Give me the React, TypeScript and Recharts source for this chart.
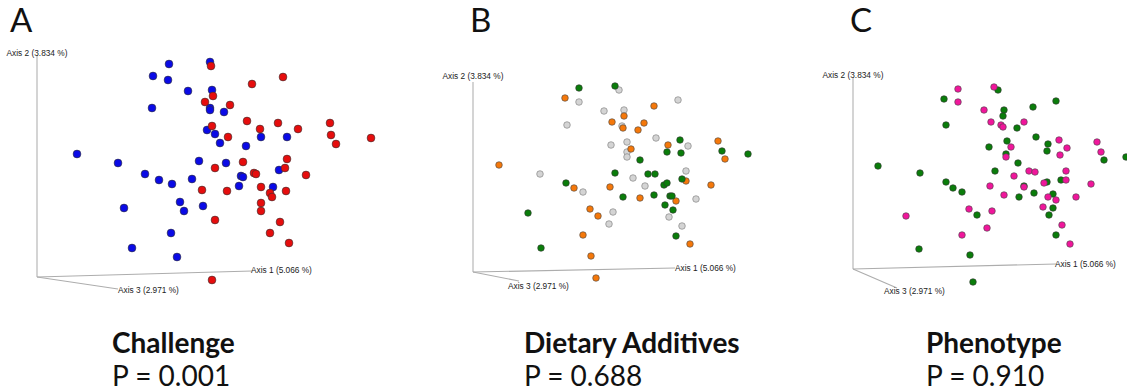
import { ScatterChart, Scatter, XAxis, YAxis, ReferenceLine, ReferenceDot } from 'recharts';

type Pt = { x: number; y: number };
const pts = (a: number[][]): Pt[] => a.map(([x, y]) => ({ x, y }));

// projected PCoA coordinates (screen-space units, origin at the axes corner)

// A - Challenge
const challengeBlue = pts([
  [132, 213], [116, 201], [131, 197], [151, 186], [115, 169], [40, 123], [81, 114], [108, 103],
  [122, 97], [155, 98], [162, 116], [173, 215], [175, 187], [173, 169], [173, 167], [187, 165],
  [170, 147], [178, 143], [224, 140], [250, 140], [183, 134], [209, 131], [189, 114], [242, 107],
  [204, 101], [206, 100], [135, 93], [202, 91], [236, 90], [166, 71], [143, 75], [147, 66],
  [87, 69], [134, 44], [95, 29], [140, 20],
]);
const challengeRed = pts([
  [174, 211], [246, 200], [215, 193], [176, 181], [168, 175], [193, 172], [210, 156], [241, 154],
  [293, 154], [175, 151], [223, 148], [261, 148], [191, 140], [294, 142], [334, 139], [299, 133],
  [250, 118], [206, 115], [178, 109], [248, 109], [217, 104], [219, 103], [269, 102], [165, 87],
  [190, 86], [224, 90], [233, 84], [235, 80], [249, 86], [224, 74], [224, 66], [178, 57],
  [243, 55], [233, 44], [252, 34], [175, -3],
]);

// B - Dietary Additives
const dietOrange = pts([
  [92, 174], [26, 107], [101, 84], [181, 166], [151, 156], [139, 150], [171, 149], [150, 144],
  [165, 142], [245, 131], [195, 127], [158, 123], [252, 113], [213, 91], [238, 87], [137, 85],
  [167, 74], [203, 71], [117, 63], [125, 56], [217, 28], [118, 16], [123, -6], [110, 37],
]);
const dietGreen = pts([
  [106, 184], [93, 89], [142, 186], [207, 132], [194, 120], [208, 119], [249, 121], [275, 118],
  [167, 112], [142, 99], [175, 98], [182, 98], [209, 93], [191, 87], [194, 89], [150, 75],
  [181, 77], [197, 76], [199, 76], [192, 67], [200, 62], [203, 36], [55, 59], [68, 24],
]);
const dietGray = pts([
  [106, 170], [94, 147], [67, 98], [146, 182], [205, 172], [131, 161], [151, 162], [149, 146],
  [183, 134], [154, 130], [138, 127], [215, 126], [154, 120], [154, 115], [213, 101], [160, 94],
  [172, 86], [223, 73], [140, 60], [136, 48], [196, 55], [209, 46], [110, 80],
]);

// C - Phenotype
const phenoPink = pts([
  [105, 180], [105, 167], [141, 182], [131, 159], [138, 147], [171, 147], [148, 144], [150, 142],
  [206, 129], [244, 127], [158, 122], [214, 121], [153, 112], [207, 114], [248, 117], [176, 98],
  [182, 97], [213, 98], [161, 93], [213, 89], [191, 86], [238, 85], [137, 83], [171, 82],
  [151, 74], [195, 72], [203, 69], [223, 72], [116, 60], [139, 58], [190, 62], [134, 41],
  [209, 44], [217, 25], [53, 53], [109, 34],
]);
const phenoGreen = pts([
  [91, 170], [93, 144], [25, 103], [67, 96], [93, 87], [100, 81], [145, 179], [203, 168],
  [180, 162], [151, 159], [150, 153], [164, 141], [154, 128], [183, 132], [195, 125], [136, 122],
  [194, 118], [153, 115], [251, 109], [273, 112], [165, 106], [142, 98], [208, 89], [194, 87],
  [171, 83], [166, 72], [181, 76], [200, 75], [124, 54], [200, 61], [196, 54], [203, 34],
  [117, 14], [120, -13], [109, 77], [66, 20],
]);

const axisNames = ['Axis 1 (5.066 %)', 'Axis 2 (3.834 %)', 'Axis 3 (2.971 %)'];

const LABEL_FONT = '"Liberation Sans", Arial, sans-serif';
const TITLE_FONT = 'Lato, "Open Sans", sans-serif';

type Series = { data: Pt[]; fill: string; stroke: string };

function dot(r: number, fill: string, stroke: string) {
  return (p: any) => (
    <circle cx={p.cx} cy={p.cy} r={r} fill={fill} stroke={stroke} strokeWidth={0.6} />
  );
}

function axisText(text: string, anchor: 'start' | 'middle') {
  return (p: any) => (
    <text x={p.cx} y={p.cy} textAnchor={anchor} dominantBaseline="central"
      fontSize={8.3} fontFamily={LABEL_FONT} fill="#222">{text}</text>
  );
}

function Panel(props: {
  left: number; top: number; width: number; height: number;
  xDomain: [number, number]; yDomain: [number, number];
  series: Series[]; r: number;
  ax1: Pt; ax2: Pt; ax3: Pt; lab1: Pt; lab2: Pt; lab3: Pt;
}) {
  const { left, top, width, height, xDomain, yDomain, series, r, ax1, ax2, ax3, lab1, lab2, lab3 } = props;
  return (
    <div style={{ position: 'absolute', left, top }}>
      <ScatterChart width={width} height={height} margin={{ top: 0, right: 0, bottom: 0, left: 0 }}>
        <XAxis type="number" dataKey="x" domain={xDomain} hide allowDataOverflow />
        <YAxis type="number" dataKey="y" domain={yDomain} hide allowDataOverflow />
        <ReferenceLine segment={[{ x: 0, y: 0 }, ax2]} stroke="#c6c6c6" strokeWidth={1.5} ifOverflow="visible" />
        <ReferenceLine segment={[{ x: 0, y: 0 }, ax1]} stroke="#adadad" strokeWidth={1.2} ifOverflow="visible" />
        <ReferenceLine segment={[{ x: 0, y: 0 }, ax3]} stroke="#adadad" strokeWidth={1.2} ifOverflow="visible" />
        <ReferenceDot x={lab2.x} y={lab2.y} r={0} ifOverflow="visible" shape={axisText(axisNames[1], 'middle')} />
        <ReferenceDot x={lab1.x} y={lab1.y} r={0} ifOverflow="visible" shape={axisText(axisNames[0], 'start')} />
        <ReferenceDot x={lab3.x} y={lab3.y} r={0} ifOverflow="visible" shape={axisText(axisNames[2], 'start')} />
        {series.map((s, i) => (
          <Scatter key={i} data={s.data} fill={s.fill} isAnimationActive={false}
            shape={dot(r, s.fill, s.stroke)} />
        ))}
      </ScatterChart>
    </div>
  );
}

function Caption({ left, letterLeft, letter, title, p }: { left: number; letterLeft: number; letter: string; title: string; p: string }) {
  return (
    <>
      <div style={{ position: 'absolute', left: letterLeft, top: 2, fontFamily: TITLE_FONT, fontSize: 33, lineHeight: '34px', color: '#111' }}>
        {letter}
      </div>
      <div style={{ position: 'absolute', left, top: 324, fontFamily: TITLE_FONT, fontWeight: 700, fontSize: 28, lineHeight: '36px', color: '#111', whiteSpace: 'nowrap' }}>
        {title}
      </div>
      <div style={{ position: 'absolute', left, top: 358, fontFamily: TITLE_FONT, fontSize: 28, lineHeight: '34px', color: '#111', whiteSpace: 'nowrap' }}>
        {p}
      </div>
    </>
  );
}

export default function App() {
  return (
    <div style={{ position: 'absolute', left: 0, top: 0, width: 1127, height: 392, background: '#fff', overflow: 'hidden' }}>
      <Panel left={-8} top={32} width={400} height={275} xDomain={[-45, 355]} yDomain={[-30, 245]} r={3.9}
        series={[
          { data: challengeBlue, fill: '#0a0ae6', stroke: '#333' },
          { data: challengeRed, fill: '#e60d0d', stroke: '#333' },
        ]}
        ax1={{ x: 215, y: 6 }} ax2={{ x: 0, y: 222 }} ax3={{ x: 81, y: -12 }}
        lab1={{ x: 214, y: 7 }} lab2={{ x: 0, y: 224 }} lab3={{ x: 81, y: -13 }} />
      <Panel left={427.7} top={27.3} width={400} height={275} xDomain={[-45, 355]} yDomain={[-30, 245]} r={3.3}
        series={[
          { data: dietGray, fill: '#d4d4d4', stroke: '#777' },
          { data: dietOrange, fill: '#f5780a', stroke: '#444' },
          { data: dietGreen, fill: '#0a7d0a', stroke: '#333' },
        ]}
        ax1={{ x: 202, y: 4 }} ax2={{ x: 0, y: 190 }} ax3={{ x: 46, y: -9 }}
        lab1={{ x: 202, y: 4 }} lab2={{ x: 0, y: 196 }} lab3={{ x: 35, y: -14 }} />
      <Panel left={808} top={24.3} width={319} height={275} xDomain={[-45, 274]} yDomain={[-30, 245]} r={3.3}
        series={[
          { data: phenoGreen, fill: '#0a7d0a', stroke: '#333' },
          { data: phenoPink, fill: '#f0169b', stroke: '#444' },
        ]}
        ax1={{ x: 203, y: 5 }} ax2={{ x: 0, y: 191 }} ax3={{ x: 44, y: -19 }}
        lab1={{ x: 202, y: 5.5 }} lab2={{ x: 0, y: 194 }} lab3={{ x: 31, y: -22 }} />
      <Caption left={112} letterLeft={10} letter="A" title="Challenge" p="P = 0.001" />
      <Caption left={524} letterLeft={470} letter="B" title="Dietary Additives" p="P = 0.688" />
      <Caption left={926} letterLeft={850} letter="C" title="Phenotype" p="P = 0.910" />
    </div>
  );
}
